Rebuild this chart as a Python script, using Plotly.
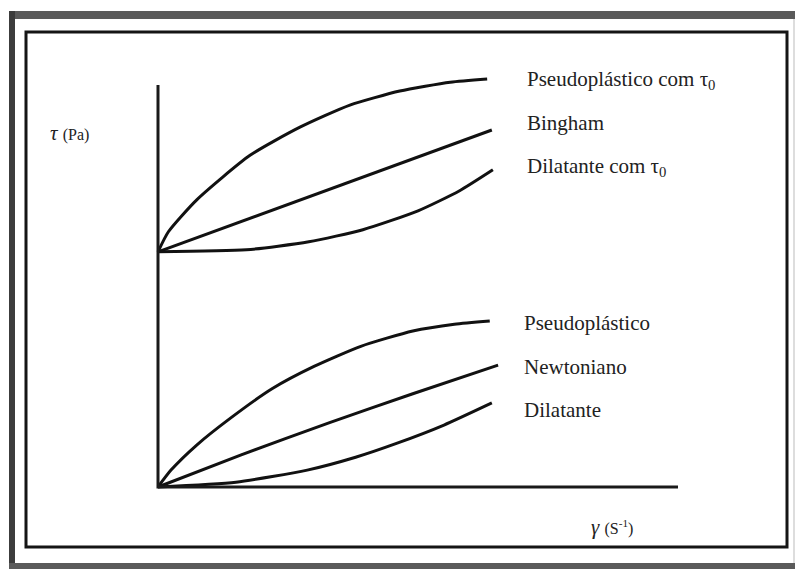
import plotly.graph_objects as go

# Shear rate (γ) / shear stress (τ) in arbitrary schematic units
TAU0 = 5.85  # yield stress shared by the three upper curves

# Fluids without yield stress
pseudo_x = [0.0, 0.25, 0.75, 1.4, 2.2, 3.0, 3.9, 4.9, 5.7, 6.38]
pseudo_y = [0.0, 0.42, 1.05, 1.72, 2.45, 3.0, 3.5, 3.88, 4.05, 4.13]

newton_x = [0.0, 1.6, 3.3, 4.9, 6.54]
newton_y = [0.0, 0.80, 1.60, 2.32, 3.03]

dilat_x = [0.0, 1.5, 2.87, 3.8, 4.6, 5.5, 6.42]
dilat_y = [0.0, 0.12, 0.42, 0.74, 1.09, 1.54, 2.09]

# Fluids with yield stress τ0
pseudo_t0_x = [0.0, 0.2, 0.75, 1.77, 2.73, 3.69, 4.65, 5.62, 6.33]
pseudo_t0_y = [5.85, 6.35, 7.15, 8.25, 8.95, 9.5, 9.85, 10.07, 10.15]

bingham_x = [0.0, 6.42]
bingham_y = [5.85, 8.88]

dilat_t0_x = [0.0, 1.7, 2.9, 3.94, 5.0, 5.8, 6.44]
dilat_t0_y = [5.85, 5.90, 6.10, 6.40, 6.87, 7.37, 7.89]

curve_labels = ["Pseudoplástico com τ<sub>0</sub>", "Bingham", "Dilatante com τ<sub>0</sub>",
                "Pseudoplástico", "Newtoniano", "Dilatante"]
label_x = [7.06, 7.06, 7.06, 7.0, 7.0, 7.0]
label_y = [10.12, 9.05, 7.96, 4.08, 2.99, 1.92]

axis_len_x = 10.0
axis_len_y = 10.0

W, H = 795, 569
INK = "#111111"
SERIF = "Liberation Serif, Times New Roman, serif"

fig = go.Figure()

curves = [
    (pseudo_t0_x, pseudo_t0_y), (bingham_x, bingham_y), (dilat_t0_x, dilat_t0_y),
    (pseudo_x, pseudo_y), (newton_x, newton_y), (dilat_x, dilat_y),
]
for cx, cy in curves:
    fig.add_trace(go.Scatter(x=cx, y=cy, mode="lines",
                             line=dict(color=INK, width=3, shape="spline", smoothing=0.6),
                             hoverinfo="skip", showlegend=False))

# Drawn axes
fig.add_trace(go.Scatter(x=[0, 0, axis_len_x], y=[axis_len_y, 0, 0], mode="lines",
                         line=dict(color="#1a1a1a", width=3),
                         hoverinfo="skip", showlegend=False))

for text, lx, ly in zip(curve_labels, label_x, label_y):
    fig.add_annotation(x=lx, y=ly, text=text, showarrow=False, xanchor="left",
                       yanchor="middle", font=dict(family=SERIF, size=21, color="#222222"))

fig.add_annotation(x=-2.12, y=8.81, text="<i>τ</i> <span style='font-size:16px'>(Pa)</span>",
                   showarrow=False, xanchor="left", yanchor="middle",
                   font=dict(family=SERIF, size=21, color="#222222"))
fig.add_annotation(x=8.29, y=-1.0, text="<i>γ</i> <span style='font-size:16px'>(S<sup>-1</sup>)</span>",
                   showarrow=False, xanchor="left", yanchor="middle",
                   font=dict(family=SERIF, size=21, color="#222222"))


def px(x):
    return x / W


def py(y):
    return 1 - y / H


shapes = [
    # outer dark band on top, left and bottom
    dict(type="rect", x0=px(9), x1=px(795), y0=py(11), y1=py(19), fillcolor="#5a5a5a", line_width=0),
    dict(type="rect", x0=px(9), x1=px(15), y0=py(11), y1=py(569), fillcolor="#3c3c3c", line_width=0),
    dict(type="rect", x0=px(9), x1=px(795), y0=py(563), y1=py(569), fillcolor="#5a5a5a", line_width=0),
    dict(type="line", x0=px(794), x1=px(794), y0=py(19), y1=py(563), line=dict(color="#bbbbbb", width=1)),
    # inner black frame
    dict(type="rect", x0=px(26), x1=px(787), y0=py(32), y1=py(547),
         line=dict(color="#151515", width=3), fillcolor="rgba(0,0,0,0)"),
]
for s in shapes:
    s.update(xref="paper", yref="paper", layer="above")
fig.update_layout(shapes=shapes)

fig.update_layout(
    width=W, height=H, margin=dict(l=0, r=0, t=0, b=0),
    paper_bgcolor="white", plot_bgcolor="white",
    xaxis=dict(range=[-158 / 52, (W - 158) / 52], visible=False, fixedrange=True),
    yaxis=dict(range=[(487 - H) / 40.2, 487 / 40.2], visible=False, fixedrange=True),
)

fig.write_html("out.html")
